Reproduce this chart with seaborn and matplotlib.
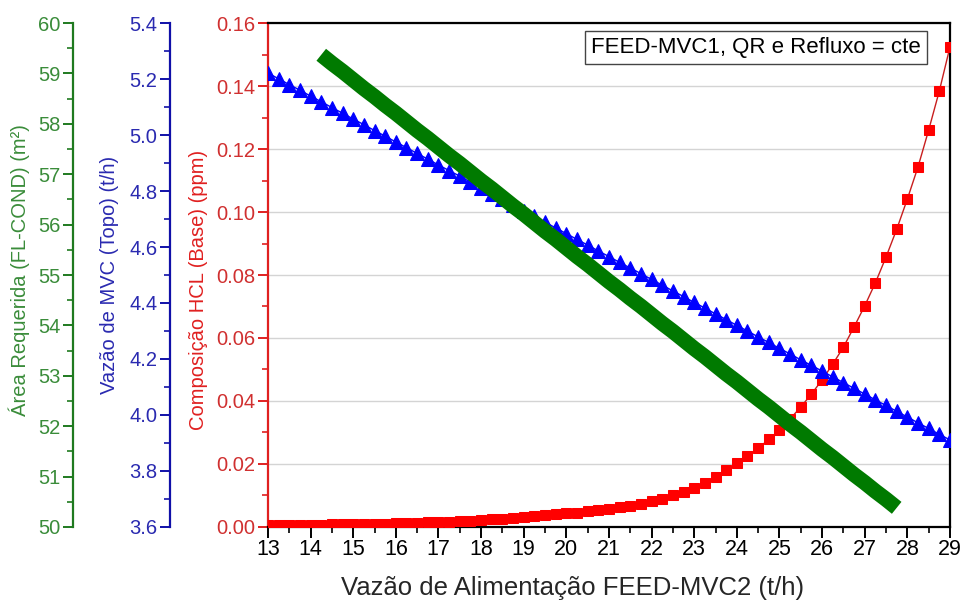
import numpy as np
import pandas as pd
import seaborn as sns
import matplotlib.pyplot as plt
from matplotlib.ticker import MultipleLocator, FormatStrFormatter

# Feed flow of FEED-MVC2 (t/h), sampled every 0.25 t/h
feed = np.arange(13.0, 29.001, 0.25)

# HCl composition at the bottom (ppm)
hcl_base = [
    0.0005, 0.0005, 0.0006, 0.0006, 0.0007, 0.0007, 0.0008, 0.0008,
    0.0009, 0.0010, 0.0010, 0.0011, 0.0012, 0.0013, 0.0014, 0.0015,
    0.0016, 0.0017, 0.0019, 0.0020, 0.0022, 0.0024, 0.0026, 0.0028,
    0.0031, 0.0034, 0.0037, 0.0040, 0.0043, 0.0046, 0.0050, 0.0054,
    0.0058, 0.0063, 0.0068, 0.0074, 0.0081, 0.0090, 0.0100, 0.0112,
    0.0125, 0.0141, 0.0160, 0.0180, 0.0202, 0.0225, 0.0250, 0.0278,
    0.0308, 0.0343, 0.0381, 0.0422, 0.0467, 0.0517, 0.0571, 0.0635,
    0.0702, 0.0775, 0.0857, 0.0945, 0.1041, 0.1143, 0.1260, 0.1384,
    0.1524,
]

# MVC flow at the top (t/h)
mvc_topo = [
    5.221, 5.201, 5.180, 5.160, 5.139, 5.119, 5.098, 5.078, 5.057, 5.037,
    5.016, 4.996, 4.975, 4.955, 4.934, 4.914, 4.893, 4.873, 4.853, 4.832,
    4.812, 4.791, 4.771, 4.750, 4.730, 4.709, 4.689, 4.668, 4.648, 4.627,
    4.607, 4.586, 4.566, 4.545, 4.525, 4.505, 4.484, 4.464, 4.443, 4.423,
    4.402, 4.382, 4.361, 4.341, 4.320, 4.300, 4.279, 4.259, 4.238, 4.218,
    4.197, 4.177, 4.157, 4.136, 4.116, 4.095, 4.075, 4.054, 4.034, 4.013,
    3.993, 3.972, 3.952, 3.931, 3.911,
]

# Required condenser area (m²), 14.25 to 27.75 t/h
feed_area = np.arange(14.25, 27.751, 0.25)
area_cond = [
    59.37, 59.20, 59.04, 58.87, 58.70, 58.54, 58.37, 58.21, 58.04, 57.87,
    57.71, 57.54, 57.37, 57.21, 57.04, 56.87, 56.71, 56.54, 56.37, 56.21,
    56.04, 55.87, 55.71, 55.54, 55.37, 55.21, 55.04, 54.87, 54.71, 54.54,
    54.38, 54.21, 54.04, 53.88, 53.71, 53.54, 53.38, 53.21, 53.04, 52.88,
    52.71, 52.54, 52.38, 52.21, 52.04, 51.88, 51.71, 51.54, 51.38, 51.21,
    51.04, 50.88, 50.71, 50.55, 50.38,
]

x_ticks = list(range(13, 30))

sns.set_style("white")
plt.rcParams['font.family'] = ['Liberation Sans', 'DejaVu Sans']

RED_SP, RED_TX = '#e02020', '#d03030'
BLUE_SP, BLUE_TX = '#1010a8', '#2a2ab0'
GREEN_SP, GREEN_TX = '#1f7a1f', '#3a8c3a'

fig = plt.figure(figsize=(9.66, 6.04), dpi=100)
ax = fig.add_axes([0.2774, 0.1275, 0.7060, 0.8344])
ax_b = ax.twinx()
ax_g = ax.twinx()

df_red = pd.DataFrame({'feed': feed, 'hcl': hcl_base})
df_blue = pd.DataFrame({'feed': feed, 'mvc': mvc_topo})
df_green = pd.DataFrame({'feed': feed_area, 'area': area_cond})

sns.lineplot(data=df_red, x='feed', y='hcl', ax=ax, color='#c81e1e', lw=1.0,
             marker='s', markersize=7.2, markerfacecolor='#ff0000',
             markeredgecolor='#ff0000', zorder=3)
sns.lineplot(data=df_blue, x='feed', y='mvc', ax=ax_b, color='#0000ff', lw=1.0,
             marker='^', markersize=9.5, markerfacecolor='#0000ff',
             markeredgecolor='#0000ff', zorder=3)
sns.lineplot(data=df_green, x='feed', y='area', ax=ax_g, color='#007a00',
             lw=11, solid_capstyle='butt', zorder=3)

# main axis: HCl composition
ax.set_xlim(13, 29)
ax.set_ylim(0, 0.16)
ax.set_xticks(x_ticks)
ax.xaxis.set_minor_locator(MultipleLocator(0.5))
ax.yaxis.set_major_locator(MultipleLocator(0.02))
ax.yaxis.set_minor_locator(MultipleLocator(0.01))
ax.yaxis.set_major_formatter(FormatStrFormatter('%.2f'))
ax.grid(axis='y', color='#d4d4d4', lw=1.0)
ax.set_axisbelow(True)
for s in ['top', 'right', 'bottom']:
    ax.spines[s].set_color('black')
    ax.spines[s].set_linewidth(1.6)
ax.spines['left'].set_color(RED_SP)
ax.spines['left'].set_linewidth(1.6)
ax.tick_params(axis='x', which='major', direction='out', length=8, width=1.4,
               color='black', labelsize=15.5, labelcolor='black', pad=1.0,
               bottom=True)
ax.tick_params(axis='x', which='minor', direction='out', length=4.5, width=1.2,
               color='black', bottom=True)
ax.tick_params(axis='y', which='major', direction='out', length=7, width=1.4,
               color=RED_SP, labelsize=14.5, labelcolor=RED_TX, left=True,
               pad=2)
ax.tick_params(axis='y', which='minor', direction='out', length=4, width=1.2,
               color=RED_SP, left=True)
ax.set_xlabel('Vazão de Alimentação FEED-MVC2 (t/h)', fontsize=18.5)
ax.xaxis.set_label_coords(0.447, -0.097)
ax.set_ylabel('Composição HCL (Base) (ppm)', fontsize=14.5, color=RED_SP)
ax.yaxis.set_label_coords(-0.088, 0.47)

# offset axes on the left for MVC flow and condenser area
for a, pos, lim, major, minor, fmt, sp, tx, label, lc in [
    (ax_b, -0.1437, (3.6, 5.4), 0.2, 0.1, '%.1f', BLUE_SP, BLUE_TX,
     'Vazão de MVC (Topo) (t/h)', (-0.2185, 0.50)),
    (ax_g, -0.286, (50, 60), 1, 0.5, '%d', GREEN_SP, GREEN_TX,
     'Área Requerida (FL-COND) (m²)', (-0.349, 0.51)),
]:
    a.set_ylim(*lim)
    a.yaxis.set_label_position('left')
    a.yaxis.set_ticks_position('left')
    for s in ['top', 'right', 'bottom']:
        a.spines[s].set_visible(False)
    a.spines['left'].set_visible(True)
    a.spines['left'].set_position(('axes', pos))
    a.spines['left'].set_color(sp)
    a.spines['left'].set_linewidth(1.6)
    a.yaxis.set_major_locator(MultipleLocator(major))
    a.yaxis.set_minor_locator(MultipleLocator(minor))
    a.yaxis.set_major_formatter(FormatStrFormatter(fmt))
    a.tick_params(axis='y', which='major', direction='out', length=7,
                  width=1.4, color=sp, labelsize=14.5, labelcolor=tx, pad=2)
    a.tick_params(axis='y', which='minor', direction='out', length=4,
                  width=1.2, color=sp)
    a.set_ylabel(label, fontsize=14.5, color=tx)
    a.yaxis.set_label_coords(*lc)
    a.grid(False)
    a.set_xlim(13, 29)

ax.text(0.9575, 0.951, 'FEED-MVC1, QR e Refluxo = cte', transform=ax.transAxes,
        ha='right', va='center', fontsize=16, color='black', zorder=10,
        bbox=dict(boxstyle='square,pad=0.28', facecolor='white',
                  edgecolor='#444444', lw=1.0))

fig.savefig('out.png', dpi=100, facecolor='white')
